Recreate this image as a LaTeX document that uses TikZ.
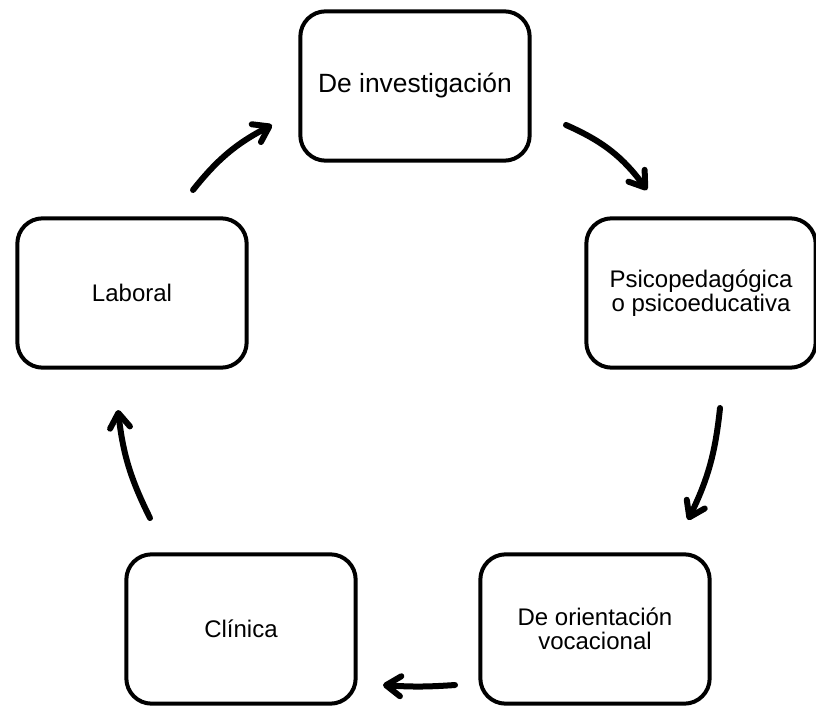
\documentclass[tikz,border=0pt]{standalone}
\usepackage{fontspec}
\setmainfont{Liberation Sans}
\usepackage{tikz}
\usetikzlibrary{arrows.meta, positioning}

\begin{document}
\begin{tikzpicture}[x=0.75pt, y=0.75pt,
    areabox/.style={draw=black, line width=3pt, rounded corners=19pt, fill=white, minimum width=172pt, minimum height=112pt, align=center, font=\fontsize{18}{18}\selectfont},
    flow/.style={line width=4.5pt, line cap=round, -{Straight Barb[length=11pt, width=15pt, line cap=round, line join=round]}}]
    \useasboundingbox (0,0) rectangle (816,-706);
    \node[areabox, font=\fontsize{19.8}{20}\selectfont] (inv) at (415,-86) {De investigación};
    \node[areabox] (psi) at (701,-293) {Psicopedagógica\\o psicoeducativa};
    \node[areabox] (voc) at (595,-629) {De orientación\\vocacional};
    \node[areabox] (cli) at (241,-629) {Clínica};
    \node[areabox] (lab) at (132,-293) {Laboral};

    \coordinate (invout) at (566,-125);
    \coordinate (psiin) at (647,-190);
    \coordinate (psiout) at (720,-408);
    \coordinate (vocin) at (688,-520);
    \coordinate (vocout) at (455,-685);
    \coordinate (cliin) at (383,-685);
    \coordinate (cliout) at (150,-518);
    \coordinate (labin) at (118,-410);
    \coordinate (labout) at (193,-190);
    \coordinate (invin) at (272,-125);

    \draw[flow] (invout) to[bend left=15] (psiin);
    \draw[flow] (psiout) to[bend left=10] (vocin);
    \draw[flow] (vocout) to[bend left=4] (cliin);
    \draw[flow] (cliout) to[bend left=10] (labin);
    \draw[flow] (labout) to[bend left=12] (invin);
  \end{tikzpicture}
\end{document}
